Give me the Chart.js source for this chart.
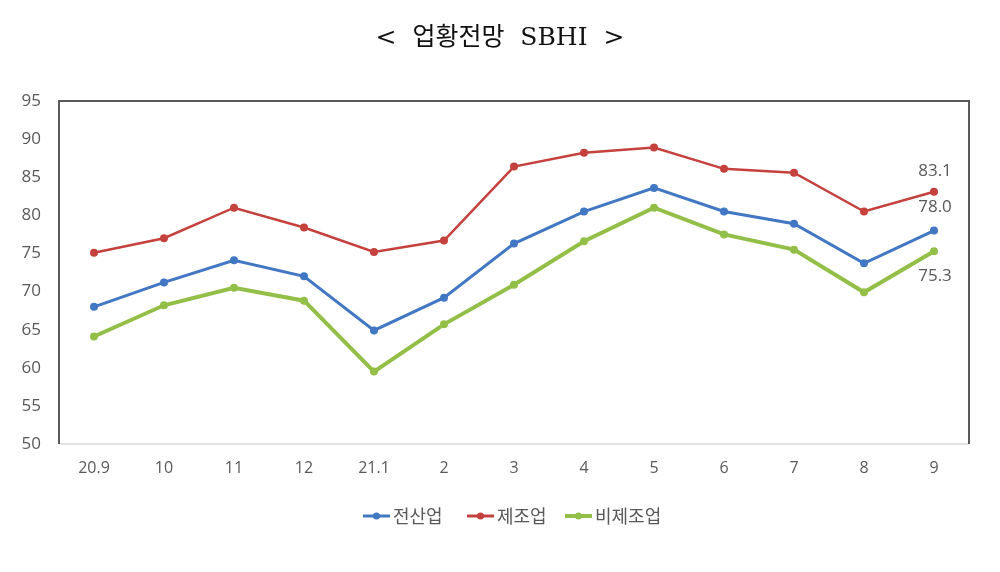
<!DOCTYPE html>
<html>
<head>
<meta charset="utf-8">
<script src="https://cdn.jsdelivr.net/npm/chart.js@4/dist/chart.umd.min.js"></script>
<style>
  html, body { margin: 0; padding: 0; background: #fff; }
  #wrap { width: 1000px; height: 572px; position: relative; }
</style>
</head>
<body>
<div id="wrap"><canvas id="sbhiChart" width="1000" height="572"></canvas></div>
<script>
const months = ['20.9', '10', '11', '12', '21.1', '2', '3', '4', '5', '6', '7', '8', '9'];
const allIndustry = [68.0, 71.2, 74.1, 72.0, 64.9, 69.2, 76.3, 80.5, 83.6, 80.5, 78.9, 73.7, 78.0];
const manufacturing = [75.1, 77.0, 81.0, 78.4, 75.2, 76.7, 86.4, 88.2, 88.9, 86.1, 85.6, 80.5, 83.1];
const nonManufacturing = [64.1, 68.2, 70.5, 68.8, 59.5, 65.7, 70.9, 76.6, 81.0, 77.5, 75.5, 69.9, 75.3];
const seriesNames = ['전산업', '제조업', '비제조업'];
const yTicks = [50, 55, 60, 65, 70, 75, 80, 85, 90, 95];

const colors = ['#4277c3', '#c4413d', '#93bf48'];

// title, frame, legend and last-point labels
const decorations = {
  id: 'decorations',
  beforeDatasetsDraw(chart) {
    const { ctx, chartArea: a } = chart;
    ctx.save();
    ctx.strokeStyle = '#d9d9d9';
    ctx.lineWidth = 1.5;
    ctx.beginPath();
    ctx.moveTo(a.left, a.bottom);
    ctx.lineTo(a.right, a.bottom);
    ctx.stroke();
    ctx.strokeStyle = '#595959';
    ctx.lineWidth = 2;
    ctx.beginPath();
    ctx.moveTo(a.left, a.bottom);
    ctx.lineTo(a.left, a.top);
    ctx.lineTo(a.right, a.top);
    ctx.lineTo(a.right, a.bottom);
    ctx.stroke();
    ctx.restore();
  },
  afterDraw(chart) {
    const { ctx } = chart;
    ctx.save();
    // title
    ctx.fillStyle = '#111';
    ctx.font = '25px "DejaVu Serif", "Liberation Serif", "Noto Sans CJK KR", serif';
    ctx.textAlign = 'center';
    ctx.textBaseline = 'middle';
    ctx.fillText('<  업황전망  SBHI  >', 500, 38);

    // last point labels
    ctx.font = '17px "Open Sans", "Noto Sans", sans-serif';
    ctx.fillStyle = '#595959';
    const offs = [-23, -21, 25];
    [1, 0, 2].forEach(i => {
      const meta = chart.getDatasetMeta(i);
      const p = meta.data[meta.data.length - 1];
      const v = chart.data.datasets[i].data[meta.data.length - 1];
      ctx.fillText(v.toFixed(1), p.x + 1, p.y + offs[i]);
    });

    // legend
    ctx.font = '18px "Noto Sans CJK KR", sans-serif';
    ctx.textAlign = 'left';
    const starts = [363, 467, 565];
    seriesNames.forEach((name, i) => {
      const x = starts[i], y = 516;
      ctx.strokeStyle = colors[i];
      ctx.lineWidth = i === 2 ? 4 : 3;
      ctx.beginPath();
      ctx.moveTo(x, y);
      ctx.lineTo(x + 27, y);
      ctx.stroke();
      ctx.fillStyle = colors[i];
      ctx.beginPath();
      ctx.arc(x + 13.5, y, 3.5, 0, Math.PI * 2);
      ctx.fill();
      ctx.fillStyle = '#595959';
      ctx.fillText(name, x + 30, y);
    });
    ctx.restore();
  }
};

const ctx = document.getElementById('sbhiChart').getContext('2d');
new Chart(ctx, {
  type: 'line',
  data: {
    labels: months,
    datasets: [
      { label: seriesNames[0], data: allIndustry, borderColor: colors[0], backgroundColor: colors[0], borderWidth: 3 },
      { label: seriesNames[1], data: manufacturing, borderColor: colors[1], backgroundColor: colors[1], borderWidth: 2.5 },
      { label: seriesNames[2], data: nonManufacturing, borderColor: colors[2], backgroundColor: colors[2], borderWidth: 4 }
    ].map(d => Object.assign(d, { pointRadius: 4, pointBorderWidth: 0, tension: 0, fill: false }))
  },
  options: {
    responsive: false,
    animation: false,
    layout: { padding: { left: 0, right: 31, top: 101, bottom: 0 } },
    plugins: { legend: { display: false }, title: { display: false }, tooltip: { enabled: false } },
    scales: {
      x: {
        offset: true,
        grid: { display: false, drawTicks: false },
        border: { display: false },
        ticks: { color: '#595959', font: { family: '"Open Sans", "Noto Sans", sans-serif', size: 16 }, padding: 15, maxRotation: 0 },
        afterFit: s => { s.height = 128; }
      },
      y: {
        min: 50,
        max: 95,
        afterBuildTicks: s => { s.ticks = yTicks.map(v => ({ value: v })); },
        grid: { display: false, drawTicks: false },
        border: { display: false },
        ticks: { color: '#595959', font: { family: '"Open Sans", "Noto Sans", sans-serif', size: 17 }, padding: 18 },
        afterFit: s => { s.width = 59; }
      }
    }
  },
  plugins: [decorations]
});
</script>
</body>
</html>
